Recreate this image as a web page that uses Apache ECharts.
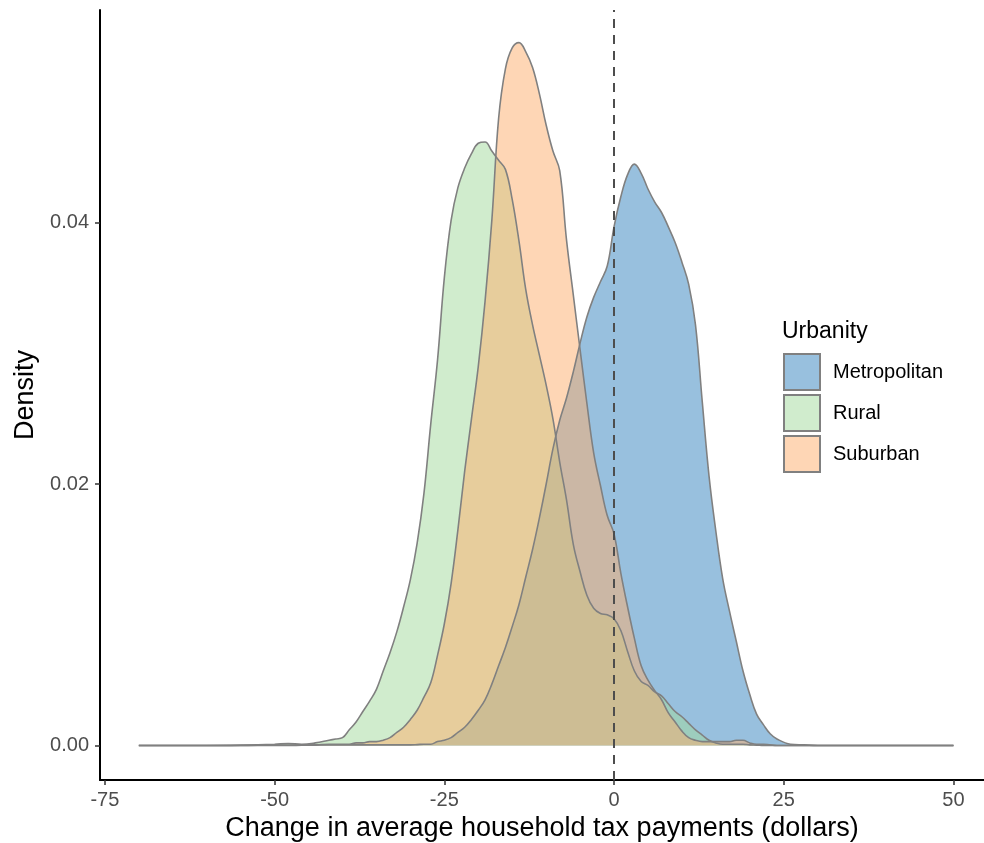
<!DOCTYPE html>
<html>
<head>
<meta charset="utf-8">
<script src="https://cdn.jsdelivr.net/npm/echarts@6/dist/echarts.min.js"></script>
<style>
  html, body { margin: 0; padding: 0; background: #fff; }
  #chart { width: 984px; height: 843px; }
</style>
</head>
<body>
<div id="chart"></div>
<script>
// change in tax payments (dollars), shared by all three density curves
const xs = [-70, -60, -55, -50, -48, -46, -44, -42,
  -41, -40, -39, -38, -37, -36, -35, -34, -33, -32, -31, -30,
  -29, -28, -27, -26, -25, -24, -23, -22, -21, -20,
  -19, -18, -17, -16, -15, -14, -13, -12, -11, -10,
  -9, -8, -7, -6, -5, -4, -3, -2, -1, 0,
  1, 2, 3, 4, 5, 6, 7, 8, 9, 10,
  11, 12, 13, 14, 15, 16, 17, 18, 19, 20,
  21, 22, 23, 24, 26, 28, 30, 35, 40, 45, 50];

const metroDensity = [0, 0, 0, 0, 0, 0.00002, 0.00003, 0.00004,
  0.00004, 0.00005, 0.00005, 0.00005, 0.00005, 0.00005, 0.00005, 0.00005, 0.00005, 0.00005, 0.00005, 0.00005,
  0.00007, 0.0001, 0.0001, 0.0003, 0.0004, 0.0006, 0.0010, 0.0014, 0.0020, 0.0027,
  0.0035, 0.0047, 0.0061, 0.0075, 0.0091, 0.0108, 0.0129, 0.0150, 0.0174, 0.0200,
  0.0227, 0.0249, 0.0266, 0.0286, 0.0308, 0.0328, 0.0343, 0.0355, 0.0367, 0.0397,
  0.0420, 0.0437, 0.0445, 0.0438, 0.0426, 0.0416, 0.0408, 0.0397, 0.0385, 0.0370,
  0.0353, 0.0322, 0.0263, 0.0206, 0.0164, 0.0128, 0.0103, 0.0080, 0.0057, 0.0039,
  0.0024, 0.0016, 0.0009, 0.0005, 0.0001, 0.00005, 0, 0, 0, 0, 0];

const ruralDensity = [0, 0, 0.00003, 0.0001, 0.00015, 0.0001, 0.0002, 0.0004,
  0.0005, 0.0006, 0.0012, 0.0018, 0.0026, 0.0034, 0.0043, 0.0057, 0.0071, 0.0087, 0.0106, 0.0127,
  0.0155, 0.0193, 0.0246, 0.0295, 0.0358, 0.0402, 0.0427, 0.0442, 0.0453, 0.0461,
  0.0462, 0.0455, 0.0448, 0.0441, 0.0418, 0.0386, 0.0349, 0.0322, 0.0299, 0.0276,
  0.0250, 0.0217, 0.0188, 0.0154, 0.0133, 0.0115, 0.0105, 0.0101, 0.0100, 0.0097,
  0.0088, 0.0072, 0.0057, 0.0049, 0.0046, 0.0041, 0.0038, 0.0032, 0.0026, 0.0022,
  0.0017, 0.0012, 0.0008, 0.0004, 0.0002, 0.0001, 0.0001, 0.0001, 0.0001, 0.00005,
  0.00003, 0, 0, 0, 0, 0, 0, 0, 0, 0, 0];

const suburbanDensity = [0, 0, 0, 0.00003, 0.00003, 0.00004, 0.00005, 0.0001,
  0.0001, 0.0001, 0.0001, 0.0002, 0.0002, 0.0003, 0.0003, 0.0004, 0.0006, 0.0010, 0.0014, 0.0020,
  0.0027, 0.0037, 0.0048, 0.0069, 0.0093, 0.0124, 0.0165, 0.0210, 0.0250, 0.0290,
  0.0340, 0.0402, 0.0480, 0.0518, 0.0534, 0.0538, 0.0531, 0.0519, 0.0499, 0.0475,
  0.0455, 0.0440, 0.0387, 0.0345, 0.0303, 0.0262, 0.0224, 0.0199, 0.0176, 0.0162,
  0.0132, 0.0106, 0.0082, 0.0061, 0.0050, 0.0042, 0.0035, 0.0025, 0.0018, 0.0011,
  0.0006, 0.0004, 0.0003, 0.0003, 0.0003, 0.0003, 0.0003, 0.0004, 0.0004, 0.0002,
  0.0001, 0.0001, 0.00005, 0, 0, 0, 0, 0, 0, 0, 0];

const groups = ['Metropolitan', 'Rural', 'Suburban'];
const xTicks = [-75, -50, -25, 0, 25, 50];
const yTicks = [0, 0.02, 0.04];

const fills = ['rgba(49,130,189,0.5)', 'rgba(161,217,155,0.5)', 'rgba(253,174,107,0.5)'];
const outline = '#808080';
const font = 'Liberation Sans';

const chart = echarts.init(document.getElementById('chart'));

const pairs = (ys) => xs.map((x, i) => [x, ys[i]]);
const densities = [metroDensity, ruralDensity, suburbanDensity];

const series = groups.map((name, i) => ({
  name: name,
  type: 'line',
  data: pairs(densities[i]),
  smooth: 0.4,
  showSymbol: false,
  symbol: 'none',
  silent: true,
  lineStyle: {color: outline, width: 1.6},
  itemStyle: {color: fills[i]},
  areaStyle: {color: fills[i], opacity: 1},
  emphasis: {disabled: true}
}));

// dashed reference line at zero change
series[2].markLine = {
  silent: true,
  symbol: 'none',
  label: {show: false},
  lineStyle: {color: '#4d4d4d', width: 2, type: [9, 7]},
  data: [{xAxis: 0}]
};

chart.setOption({
  animation: false,
  backgroundColor: '#fff',
  textStyle: {fontFamily: font},
  title: {
    text: 'Urbanity',
    left: 777,
    top: 315,
    textStyle: {fontFamily: font, fontSize: 23, fontWeight: 'normal', color: '#000'}
  },
  legend: {
    data: groups.map((name, i) => ({
      name: name,
      icon: 'rect',
      itemStyle: {color: fills[i], borderColor: outline, borderWidth: 2}
    })),
    orient: 'vertical',
    left: 783,
    top: 353,
    padding: 0,
    itemWidth: 36,
    itemHeight: 36,
    itemGap: 3,
    selectedMode: false,
    textStyle: {fontFamily: font, fontSize: 20, color: '#000', padding: [0, 0, 0, 8]}
  },
  grid: {left: 100, right: 0, top: 10, bottom: 63, containLabel: false, outerBoundsMode: 'none'},
  xAxis: {
    type: 'value',
    min: -75.72,
    max: 54.5,
    name: 'Change in average household tax payments (dollars)',
    nameLocation: 'middle',
    nameGap: 35,
    nameTextStyle: {fontFamily: font, fontSize: 27, color: '#000'},
    axisLine: {onZero: false, lineStyle: {color: '#000', width: 2}},
    axisTick: {customValues: xTicks, length: 5, lineStyle: {color: '#333', width: 1.5}},
    axisLabel: {customValues: xTicks, margin: 10, fontFamily: font, fontSize: 20, color: '#4d4d4d'},
    splitLine: {show: false}
  },
  yAxis: {
    type: 'value',
    min: -0.00264,
    max: 0.0563,
    name: 'Density',
    nameLocation: 'middle',
    nameGap: 59,
    nameTextStyle: {fontFamily: font, fontSize: 27, color: '#000'},
    axisLine: {show: true, onZero: false, lineStyle: {color: '#000', width: 2}},
    axisTick: {show: true, customValues: yTicks, length: 5, lineStyle: {color: '#333', width: 1.5}},
    axisLabel: {
      customValues: yTicks,
      margin: 11,
      fontFamily: font,
      fontSize: 20,
      color: '#4d4d4d',
      formatter: (v) => v.toFixed(2)
    },
    splitLine: {show: false}
  },
  series: series
});
</script>
</body>
</html>
